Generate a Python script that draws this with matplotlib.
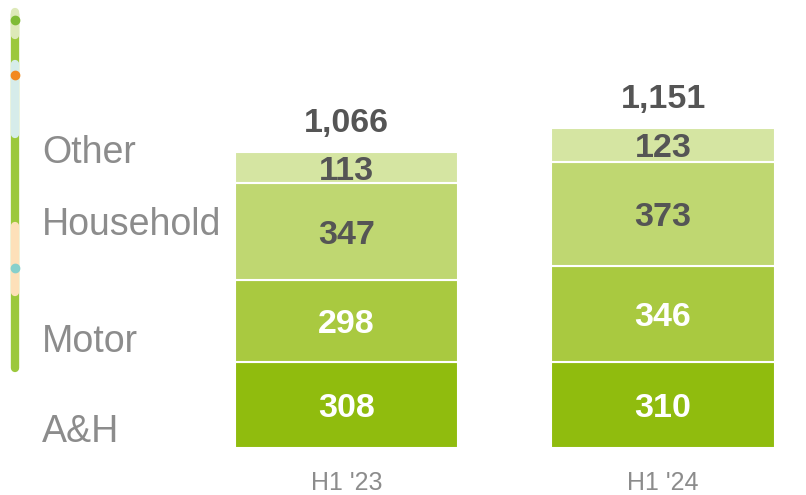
import matplotlib.pyplot as plt
from matplotlib.transforms import blended_transform_factory
import numpy as np

plt.rcParams['font.family'] = ['Liberation Sans', 'DejaVu Sans']

# Data
periods = ["H1 '23", "H1 '24"]
segments = ['A&H', 'Motor', 'Household', 'Other']
ah = [308, 310]
motor = [298, 346]
household = [347, 373]
other = [113, 123]
totals = [1066, 1151]

seg_colors = ['#90bc0e', '#a9c940', '#bfd771', '#d5e5a2']
label_colors = ['white', 'white', '#555555', '#555555']

W, H = 806, 495
fig = plt.figure(figsize=(W / 100, H / 100), dpi=100)

# axes placed in pixel terms: bottom at y=449 (from top), x from 220 to 790
ax = fig.add_axes([220 / W, 47 / H, 570 / W, 448 / H])
ax.set_xlim(-0.3997, 1.401)
ax.set_ylim(0, 1612)
ax.axis('off')

fs_val = 24.5
x = np.arange(len(periods))
series = [ah, motor, household, other]
bottom = np.zeros(len(periods))
for vals, col, tcol in zip(series, seg_colors, label_colors):
    ax.bar(x, vals, width=0.705, bottom=bottom, color=col,
           edgecolor='white', linewidth=1.5)
    for xi, b, v in zip(x, bottom, vals):
        # baseline shifted so the digits sit centred in the segment
        ax.annotate(str(v), (xi, b + v / 2), xytext=(0, -0.358 * fs_val),
                    textcoords='offset points', ha='center', va='baseline',
                    fontsize=fs_val, fontweight='bold', color=tcol)
    bottom += np.array(vals)

for xi, t in zip(x, totals):
    ax.annotate(f'{t:,}', (xi, t), xytext=(0, 14.5), textcoords='offset points',
                ha='center', va='baseline', fontsize=fs_val, fontweight='bold',
                color='#555555')

trans = blended_transform_factory(ax.transData, ax.transAxes)
for xi, p in zip(x, periods):
    ax.text(xi, -42 / 448, p, transform=trans, ha='center', va='baseline',
            fontsize=18, color='#8c8c8c')

# category labels on the left (baselines in pixels from top)
for name, ypx in zip(segments, [441.5, 352.5, 235, 163]):
    fig.text(42 / W, (H - ypx) / H, name, ha='left', va='baseline',
             fontsize=27, color='#8c8c8c')

# decorative vertical strip on the far left
def strip(y0, y1, color, lw=6):
    fig.add_artist(plt.Line2D([15 / W, 15 / W], [(H - y0) / H, (H - y1) / H],
                              color=color, linewidth=lw, solid_capstyle='round',
                              transform=fig.transFigure))

strip(14, 368, '#9cc83c')
strip(12, 35, '#dde9b8')
strip(64, 134, '#d6ecea')
strip(226, 292, '#fde0b9')
for ypx, c in [(20, '#7fbb35'), (75, '#f28a1e'), (268, '#86d0cc')]:
    fig.add_artist(plt.Line2D([15 / W], [(H - ypx) / H], marker='o',
                              markersize=6, color=c, transform=fig.transFigure))

fig.savefig('out.png', dpi=100)
